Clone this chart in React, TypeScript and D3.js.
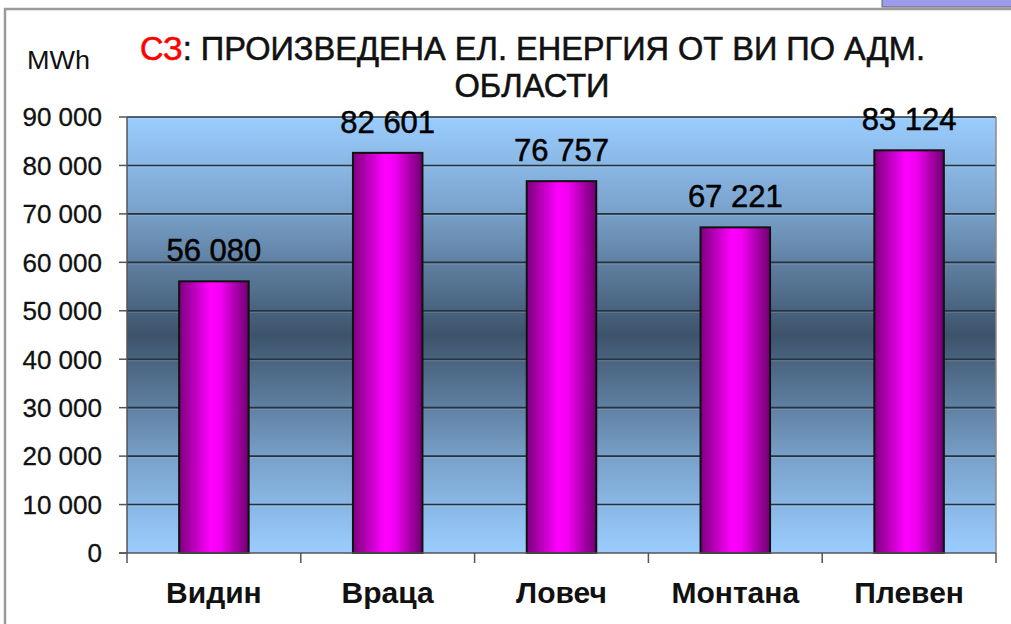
import React from "react";
import * as d3 from "d3";

const categories = ["Видин", "Враца", "Ловеч", "Монтана", "Плевен"];
const values = [56080, 82601, 76757, 67221, 83124];
const yTicks = [0, 10000, 20000, 30000, 40000, 50000, 60000, 70000, 80000, 90000];
const titleLine1Red = "СЗ";
const titleLine1Rest = ": ПРОИЗВЕДЕНА ЕЛ. ЕНЕРГИЯ ОТ ВИ ПО АДМ.";
const titleLine2 = "ОБЛАСТИ";
const unitLabel = "MWh";

const W = 1011;
const H = 624;
const plot = { left: 127, right: 996, top: 117, bottom: 553 };

const fmt = (v: number) => d3.format(",")(v).replace(/,/g, " ");

export default function App() {
  const x = d3
    .scaleBand<string>()
    .domain(categories)
    .range([plot.left, plot.right])
    .paddingInner(0.6)
    .paddingOuter(0.3);
  const y = d3.scaleLinear().domain([0, 90000]).range([plot.bottom, plot.top]);
  const step = x.step();
  const font = "'Liberation Sans', Arial, sans-serif";

  return (
    <svg
      width={W}
      height={H}
      style={{ position: "absolute", left: 0, top: 0, display: "block", background: "#fff" }}
    >
      <defs>
        <linearGradient id="bg" x1="0" y1="0" x2="0" y2="1">
          <stop offset="0" stopColor="#9ACDFF" />
          <stop offset="0.2" stopColor="#7CA5CF" />
          <stop offset="0.5" stopColor="#3D536B" />
          <stop offset="0.8" stopColor="#7CA5CF" />
          <stop offset="1" stopColor="#9ACDFF" />
        </linearGradient>
        <linearGradient id="bar" x1="0" y1="0" x2="1" y2="0">
          <stop offset="0" stopColor="#7C007C" />
          <stop offset="0.45" stopColor="#FF00FF" />
          <stop offset="0.6" stopColor="#F200F2" />
          <stop offset="1" stopColor="#6E006E" />
        </linearGradient>
      </defs>

      {/* frame */}
      <rect x={5} y={9} width={1012} height={622} fill="none" stroke="#9a9a9a" strokeWidth={2.5} />
      <rect x={882} y={-3} width={140} height={10} fill="#9C9CEC" stroke="#666" strokeWidth={1} />

      {/* plot background */}
      <rect
        x={plot.left}
        y={plot.top}
        width={plot.right - plot.left}
        height={plot.bottom - plot.top}
        fill="url(#bg)"
      />
      {/* gridlines */}
      {yTicks.filter((t) => t > 0).map((t) => (
        <g key={t}>
          <line x1={plot.left} x2={plot.right} y1={y(t)} y2={y(t)} stroke="#25333f" strokeWidth={1.6} />
          <line x1={plot.left} x2={plot.right} y1={y(t) + 1.6} y2={y(t) + 1.6} stroke="#ffffff" strokeOpacity={0.15} strokeWidth={1} />
        </g>
      ))}
      <line x1={plot.right} x2={plot.right} y1={plot.top} y2={plot.bottom} stroke="#8a8a8a" strokeWidth={1.5} />

      {/* bars */}
      {categories.map((c, i) => (
        <rect
          key={c}
          x={x(c)}
          y={y(values[i])}
          width={x.bandwidth()}
          height={plot.bottom - y(values[i])}
          fill="url(#bar)"
          stroke="#111"
          strokeWidth={2}
        />
      ))}

      {/* value labels */}
      {categories.map((c, i) => (
        <text
          key={c}
          x={(x(c) as number) + x.bandwidth() / 2}
          y={y(values[i]) - 20}
          textAnchor="middle"
          fontFamily={font}
          fontSize={31}
          fill="#000"
          stroke="#000"
          strokeWidth={0.5}
        >
          {fmt(values[i])}
        </text>
      ))}

      {/* axes */}
      <line x1={plot.left} x2={plot.left} y1={plot.top} y2={plot.bottom + 10} stroke="#555" strokeWidth={1.5} />
      <line x1={plot.left - 8} x2={plot.right} y1={plot.bottom} y2={plot.bottom} stroke="#555" strokeWidth={1.5} />
      {yTicks.map((t) => (
        <g key={t}>
          <line x1={plot.left - 8} x2={plot.left} y1={y(t)} y2={y(t)} stroke="#555" strokeWidth={1.5} />
          <text
            x={102}
            y={y(t)}
            dy="0.36em"
            textAnchor="end"
            fontFamily={font}
            fontSize={26}
            fill="#111"
            stroke="#111"
            strokeWidth={0.3}
          >
            {fmt(t)}
          </text>
        </g>
      ))}
      {categories.map((c, i) => (
        <line
          key={c}
          x1={plot.left + step * (i + 1)}
          x2={plot.left + step * (i + 1)}
          y1={plot.bottom}
          y2={plot.bottom + 10}
          stroke="#555"
          strokeWidth={1.5}
        />
      ))}
      {categories.map((c) => (
        <text
          key={c}
          x={(x(c) as number) + x.bandwidth() / 2}
          y={603}
          textAnchor="middle"
          fontFamily={font}
          fontWeight="bold"
          fontSize={30}
          fill="#111"
        >
          {c}
        </text>
      ))}

      {/* titles */}
      <text x={27} y={69} fontFamily={font} fontSize={25} fill="#111" textLength={63} lengthAdjust="spacingAndGlyphs">
        {unitLabel}
      </text>
      <text
        x={140}
        y={60}
        fontFamily={font}
        fontSize={34}
        fill="#111"
        stroke="#111"
        strokeWidth={0.6}
        textLength={785}
        lengthAdjust="spacingAndGlyphs"
      >
        <tspan fill="#FF0000" stroke="#FF0000">{titleLine1Red}</tspan>
        <tspan>{titleLine1Rest}</tspan>
      </text>
      <text
        x={532}
        y={97}
        textAnchor="middle"
        fontFamily={font}
        fontSize={34}
        fill="#111"
        stroke="#111"
        strokeWidth={0.6}
        textLength={155}
        lengthAdjust="spacingAndGlyphs"
      >
        {titleLine2}
      </text>
    </svg>
  );
}
